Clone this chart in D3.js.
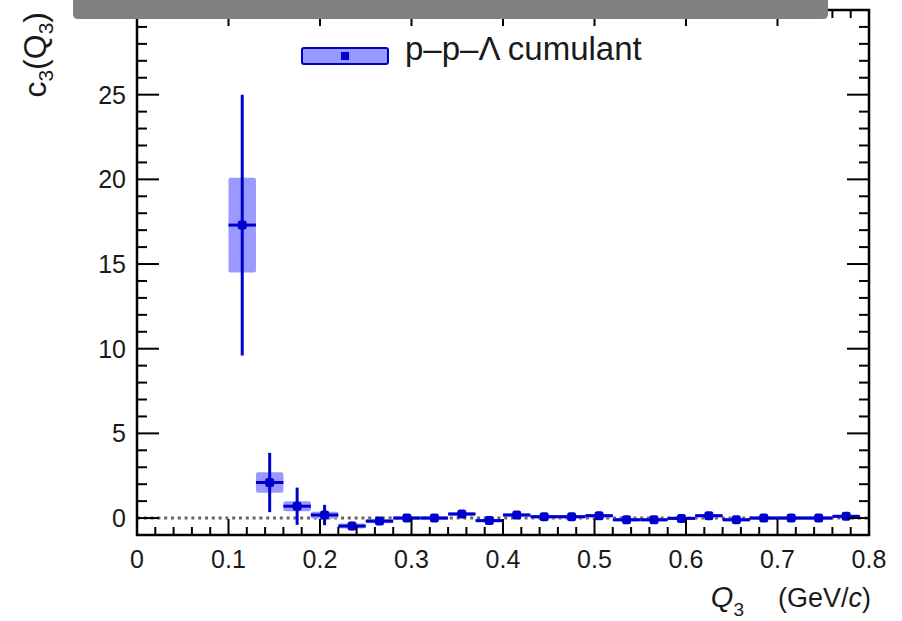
<!DOCTYPE html>
<html>
<head>
<meta charset="utf-8">
<script src="https://cdn.jsdelivr.net/npm/d3@7"></script>
<style>
  body { margin: 0; background: #fff; }
  svg { font-family: "Liberation Sans", Arial, sans-serif; }
</style>
</head>
<body>
<div id="chart"></div>
<script>
// bin centres (GeV/c), cumulant values, stat and sys errors
var q3 = [0.115, 0.145, 0.175, 0.205, 0.235, 0.265, 0.295, 0.325, 0.355, 0.385, 0.415, 0.445,
          0.475, 0.505, 0.535, 0.565, 0.595, 0.625, 0.655, 0.685, 0.715, 0.745, 0.775];
var c3 = [17.3, 2.1, 0.7, 0.18, -0.47, -0.18, 0.0, 0.0, 0.24, -0.15, 0.18, 0.08,
          0.08, 0.14, -0.1, -0.1, -0.02, 0.14, -0.1, 0.0, 0.0, 0.0, 0.1];
var statErr = [7.7, 1.75, 1.1, 0.6, 0.25, 0.15, 0.12, 0.1, 0.1, 0.1, 0.1, 0.1,
               0.1, 0.1, 0.1, 0.1, 0.1, 0.1, 0.1, 0.1, 0.1, 0.1, 0.1];
var sysErr = [2.8, 0.6, 0.3, 0.2, 0.15, 0.12, 0.1, 0.1, 0.1, 0.1, 0.1, 0.1,
              0.1, 0.1, 0.1, 0.1, 0.1, 0.1, 0.1, 0.1, 0.1, 0.1, 0.1];
var binHalf = 0.015;

var xTicks = [0, 0.1, 0.2, 0.3, 0.4, 0.5, 0.6, 0.7, 0.8];
var yTicks = [0, 5, 10, 15, 20, 25, 30];

var width = 902, height = 621;
var margin = {left: 137, right: 33, top: 10, bottom: 86};

var dark = "#0000cc", light = "#9999ff", ink = "#1a1a1a";

var svg = d3.select("#chart").append("svg")
    .attr("width", width)
    .attr("height", height);

var x = d3.scaleLinear().domain([0, 0.8]).range([margin.left, width - margin.right]);
var y = d3.scaleLinear().domain([-1, 30]).range([height - margin.bottom, margin.top]);

var x0 = x.range()[0], x1 = x.range()[1], y0 = y.range()[0], y1 = y.range()[1];

// zero line
svg.append("line")
    .attr("x1", x(0)).attr("x2", x(0.8))
    .attr("y1", y(0)).attr("y2", y(0))
    .attr("stroke", "#666").attr("stroke-width", 3)
    .attr("stroke-dasharray", "3,3.8");

// systematic boxes
svg.append("g").selectAll("rect")
    .data(q3)
    .enter().append("rect")
    .attr("x", function(d) { return x(d - binHalf); })
    .attr("width", function(d) { return x(d + binHalf) - x(d - binHalf); })
    .attr("y", function(d, i) { return y(c3[i] + sysErr[i]); })
    .attr("height", function(d, i) { return Math.max(2, y(c3[i] - sysErr[i]) - y(c3[i] + sysErr[i])); })
    .attr("rx", 2)
    .attr("fill", light);

// stat error bars
var pts = svg.append("g");
pts.selectAll("line.v")
    .data(q3)
    .enter().append("line")
    .attr("class", "v")
    .attr("x1", function(d) { return x(d); }).attr("x2", function(d) { return x(d); })
    .attr("y1", function(d, i) { return y(c3[i] + statErr[i]); })
    .attr("y2", function(d, i) { return y(c3[i] - statErr[i]); })
    .attr("stroke", dark).attr("stroke-width", 3);

pts.selectAll("line.h")
    .data(q3)
    .enter().append("line")
    .attr("class", "h")
    .attr("x1", function(d) { return x(d - binHalf); }).attr("x2", function(d) { return x(d + binHalf); })
    .attr("y1", function(d, i) { return y(c3[i]); })
    .attr("y2", function(d, i) { return y(c3[i]); })
    .attr("stroke", dark).attr("stroke-width", 3);

pts.selectAll("rect")
    .data(q3)
    .enter().append("rect")
    .attr("x", function(d) { return x(d) - 4.5; })
    .attr("y", function(d, i) { return y(c3[i]) - 4.5; })
    .attr("width", 9).attr("height", 9)
    .attr("rx", 2.5)
    .attr("fill", dark);

// axes, ROOT style: ticks inside on all four sides
var axes = svg.append("g").attr("stroke", "#000");

axes.append("rect")
    .attr("x", x0).attr("y", y1)
    .attr("width", x1 - x0).attr("height", y0 - y1)
    .attr("fill", "none").attr("stroke-width", 2.5);

var xMinor = d3.range(0, 0.8001, 0.02);
xMinor.forEach(function(v) {
    var major = Math.abs(v * 10 - Math.round(v * 10)) < 1e-6;
    var len = major ? 16 : 8;
    axes.append("line").attr("x1", x(v)).attr("x2", x(v))
        .attr("y1", y0).attr("y2", y0 - len).attr("stroke-width", 2);
    axes.append("line").attr("x1", x(v)).attr("x2", x(v))
        .attr("y1", y1).attr("y2", y1 + len).attr("stroke-width", 2);
});

var yMinor = d3.range(-1, 30.001, 1);
yMinor.forEach(function(v) {
    var major = v % 5 === 0;
    var len = major ? 22 : 10;
    axes.append("line").attr("x1", x0).attr("x2", x0 + len)
        .attr("y1", y(v)).attr("y2", y(v)).attr("stroke-width", 2);
    axes.append("line").attr("x1", x1).attr("x2", x1 - len)
        .attr("y1", y(v)).attr("y2", y(v)).attr("stroke-width", 2);
});

svg.append("g").selectAll("text")
    .data(xTicks)
    .enter().append("text")
    .attr("x", function(d) { return x(d); })
    .attr("y", y0 + 33)
    .attr("text-anchor", "middle")
    .attr("font-size", 25)
    .attr("fill", ink)
    .text(function(d) { return d3.format("")(d); });

svg.append("g").selectAll("text")
    .data(yTicks)
    .enter().append("text")
    .attr("x", x0 - 11)
    .attr("y", function(d) { return y(d); })
    .attr("dy", "0.36em")
    .attr("text-anchor", "end")
    .attr("font-size", 25)
    .attr("fill", ink)
    .text(function(d) { return d; });

// axis titles
var xt = svg.append("text")
    .attr("x", x1 + 2).attr("y", 607)
    .attr("text-anchor", "end")
    .attr("font-size", 27)
    .attr("fill", ink);
xt.append("tspan").attr("font-style", "italic").attr("font-size", 29).text("Q");
xt.append("tspan").attr("font-size", 19).attr("dx", 0).attr("dy", 9).text("3");
xt.append("tspan").attr("dx", 34).attr("dy", -9).text("(GeV/");
xt.append("tspan").attr("font-style", "italic").text("c");
xt.append("tspan").text(")");

var yt = svg.append("text")
    .attr("transform", "translate(46,12) rotate(-90)")
    .attr("text-anchor", "end")
    .attr("font-size", 32)
    .attr("fill", ink);
yt.append("tspan").text("c");
yt.append("tspan").attr("font-size", 21).attr("dy", 7).text("3");
yt.append("tspan").attr("dy", -7).text("(Q");
yt.append("tspan").attr("font-size", 21).attr("dy", 7).text("3");
yt.append("tspan").attr("dy", -7).text(")");

// legend
var lg = svg.append("g");
lg.append("rect")
    .attr("x", 302).attr("y", 48).attr("width", 86).attr("height", 16)
    .attr("rx", 2)
    .attr("fill", light).attr("stroke", dark).attr("stroke-width", 2);
lg.append("rect")
    .attr("x", 341).attr("y", 52).attr("width", 8).attr("height", 8)
    .attr("fill", dark);
lg.append("text")
    .attr("x", 405).attr("y", 60)
    .attr("font-size", 33)
    .attr("fill", ink)
    .text("p\u2013p\u2013\u039B cumulant");

// gray bar over the top
svg.append("path")
    .attr("d", "M73,0 L828,0 L828,14 Q828,19 823,19 L78,19 Q73,19 73,14 Z")
    .attr("fill", "#808080");
</script>
</body>
</html>
